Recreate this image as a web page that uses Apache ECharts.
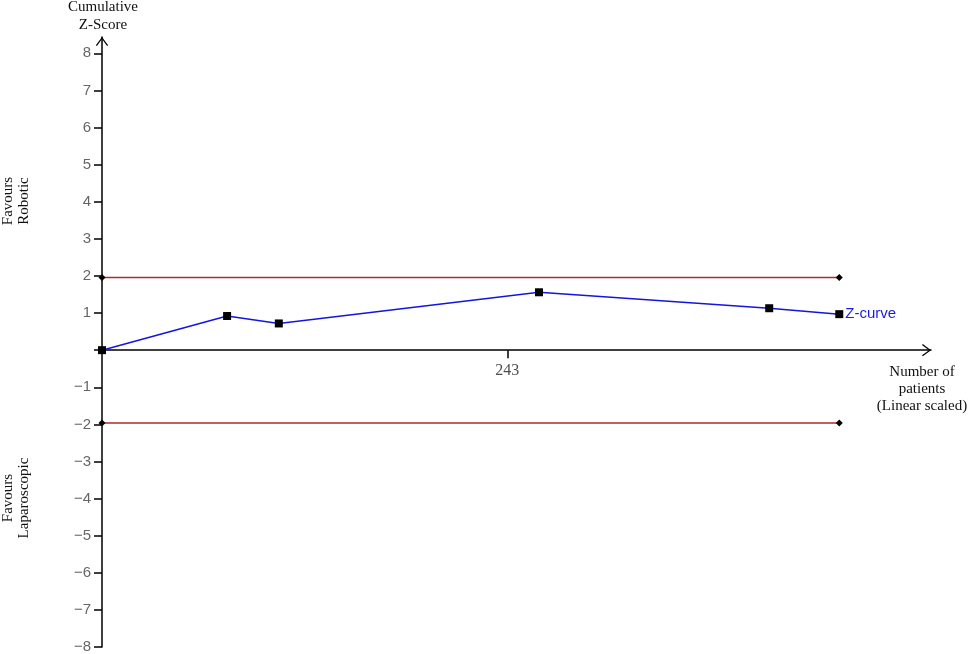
<!DOCTYPE html>
<html>
<head>
<meta charset="utf-8">
<script src="https://cdn.jsdelivr.net/npm/echarts@6/dist/echarts.min.js"></script>
<style>html,body{margin:0;padding:0;background:#fff;}#main{width:969px;height:654px;}</style>
</head>
<body>
<div id="main"></div>
<script>
// Data
const patients = [0, 75, 106, 262, 400, 442];
const zScores = [0, 0.92, 0.72, 1.56, 1.13, 0.97];
const boundaryPatients = [0, 442];
const upperBoundary = [1.96, 1.96];
const lowerBoundary = [-1.96, -1.96];
const xTickValues = [243];
const yTickValues = [-8, -7, -6, -5, -4, -3, -2, -1, 0, 1, 2, 3, 4, 5, 6, 7, 8];
const yLabelValues = [-8, -7, -6, -5, -4, -3, -2, -1, 1, 2, 3, 4, 5, 6, 7, 8];

const SERIF = '"Liberation Serif", "DejaVu Serif", serif';
const SANS = '"Liberation Sans", Arial, sans-serif';
const chevron = 'path://M0,8 L6,0 L12,8 L11,8.8 L6,2 L1,8.8 Z';

const zipPts = (xs, ys) => xs.map((x, i) => [x, ys[i]]);

const chart = echarts.init(document.getElementById('main'));
chart.setOption({
  animation: false,
  backgroundColor: '#ffffff',
  grid: { left: 102, right: 38, top: 37, bottom: 7, containLabel: false, outerBoundsMode: 'none' },
  xAxis: {
    type: 'value', min: 0, max: 497,
    splitLine: { show: false },
    axisLine: {
      onZero: true,
      lineStyle: { color: '#000', width: 1.5 },
      symbol: ['none', chevron], symbolSize: [13, 9], symbolOffset: [0, -4.5]
    },
    axisTick: { show: true, length: 8, customValues: xTickValues, lineStyle: { color: '#000', width: 1.5 } },
    axisLabel: { show: false }
  },
  yAxis: {
    type: 'value', min: -8, max: 8.44, interval: 1,
    splitLine: { show: false },
    axisLine: {
      onZero: true,
      lineStyle: { color: '#000', width: 1.5 },
      symbol: ['none', chevron], symbolSize: [13, 9], symbolOffset: [0, -4.5]
    },
    axisTick: { show: true, length: 8, customValues: yTickValues, lineStyle: { color: '#000', width: 1.5 } },
    axisLabel: {
      customValues: yLabelValues, margin: 11, color: '#666', fontFamily: SANS, fontSize: 15,
      formatter: v => (v < 0 ? '\u2212' + Math.abs(v) : String(v))
    }
  },
  series: [
    {
      type: 'line', data: zipPts(boundaryPatients, upperBoundary), z: 2,
      lineStyle: { color: '#b02a2a', width: 1.5 },
      symbol: 'diamond', symbolSize: 7, showSymbol: true,
      itemStyle: { color: '#000' }
    },
    {
      type: 'line', data: zipPts(boundaryPatients, lowerBoundary), z: 2,
      lineStyle: { color: '#b02a2a', width: 1.5 },
      symbol: 'diamond', symbolSize: 7, showSymbol: true,
      itemStyle: { color: '#000' }
    },
    {
      type: 'line', data: zipPts(patients, zScores), z: 3,
      lineStyle: { color: '#1515e0', width: 1.5 },
      symbol: 'rect', symbolSize: 8, showSymbol: true,
      itemStyle: { color: '#000' },
      endLabel: { show: true, formatter: 'Z-curve', color: '#1a1ae6', fontFamily: SANS, fontSize: 15, distance: 6 }
    },
    {
      // x tick label drawn at the axis (which sits at z = 0)
      type: 'scatter', data: xTickValues.map(v => [v, 0]), z: 4,
      symbol: 'circle', symbolSize: 0, silent: true,
      label: { show: true, position: 'bottom', distance: 13, formatter: p => String(p.value[0]), color: '#222', fontFamily: SERIF, fontSize: 16 }
    }
  ],
  graphic: [
    { type: 'text', x: 103, y: 16, style: { text: 'Cumulative\nZ-Score', font: '15px ' + SERIF, fill: '#111', align: 'center', verticalAlign: 'middle', textAlign: 'center', textVerticalAlign: 'middle', lineHeight: 18 } },
    { type: 'text', x: 922, y: 389, style: { text: 'Number of\npatients\n(Linear scaled)', font: '15px ' + SERIF, fill: '#111', align: 'center', verticalAlign: 'middle', textAlign: 'center', textVerticalAlign: 'middle', lineHeight: 17 } },
    { type: 'text', x: 16, y: 201, rotation: Math.PI / 2, style: { text: 'Favours\nRobotic', font: '15px ' + SERIF, fill: '#111', align: 'center', verticalAlign: 'middle', textAlign: 'center', textVerticalAlign: 'middle', lineHeight: 16 } },
    { type: 'text', x: 16, y: 498, rotation: Math.PI / 2, style: { text: 'Favours\nLaparoscopic', font: '15px ' + SERIF, fill: '#111', align: 'center', verticalAlign: 'middle', textAlign: 'center', textVerticalAlign: 'middle', lineHeight: 16 } }
  ]
});
</script>
</body>
</html>
